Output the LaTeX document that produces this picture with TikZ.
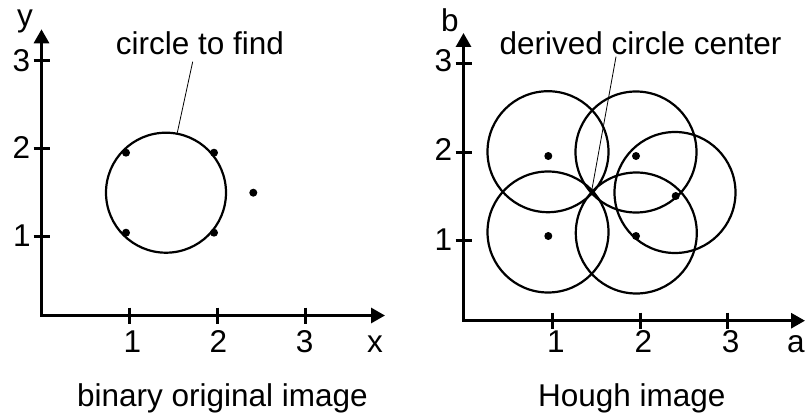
\documentclass[tikz,border=0pt]{standalone}
\usepackage{fontspec}
\setmainfont{Liberation Sans}
\usetikzlibrary{arrows.meta}
\begin{document}
\begin{tikzpicture}[x=1pt,y=-1pt,
  lbl/.style={inner sep=0pt,anchor=base,font=\fontsize{31.5}{36}\selectfont},
  axisline/.style={line width=3pt,{Triangle[length=14pt,width=15pt]}-{Triangle[length=14pt,width=15pt]}},
  tick/.style={line width=3pt},
  ring/.style={line width=2.2pt},
  leader/.style={line width=0.8pt},
  dot/.style={fill=black}]
\useasboundingbox (0,0) rectangle (805,417);
% ---------- left plot ----------
\draw[axisline] (41.5,29.3) |- (385,315.5);
\foreach \yy in {60.7,148.3,236} \draw[tick] (33.5,\yy) -- (49.5,\yy);
\foreach \xx in {129.3,217.3,305} \draw[tick] (\xx,307.5) -- (\xx,323.5);
\node[lbl] (ly3) at (21.5,71.7) {3};
\node[lbl] (ly2) at (21.5,158.8) {2};
\node[lbl] (ly1) at (22,246.7) {1};
\node[lbl] (lx1) at (132.5,352.7) {1};
\node[lbl] (lx2) at (218.3,352.7) {2};
\node[lbl] (lx3) at (304.7,352.7) {3};
\node[lbl] (ly) at (25,27) {y};
\node[lbl] (lx) at (375,352.7) {x};
\draw[ring] (166,192.7) circle[radius=60pt];
\foreach \p in {(126,152.7),(214,152.7),(126,232.7),(214,232.7),(253.3,192.7)}
  \fill[dot] \p circle[radius=4pt];
\node[lbl] (cfind) at (200,55) {circle to find};
\coordinate (cfa) at (192.7,61.7);
\coordinate (cfb) at (177.3,132.7);
\draw[leader] (cfa) -- (cfb);
\node[lbl] (cap1) at (222.5,406) {binary original image};
% ---------- right plot ----------
\draw[axisline] (463.5,33) |- (805,320.7);
\foreach \yy in {63.3,152.3,240} \draw[tick] (455.5,\yy) -- (471.5,\yy);
\foreach \xx in {552.7,640,727.3} \draw[tick] (\xx,312.5) -- (\xx,328.5);
\node[lbl] (ry3) at (443.3,72) {3};
\node[lbl] (ry2) at (443.3,160.5) {2};
\node[lbl] (ry1) at (443.3,250) {1};
\node[lbl] (rx1) at (556,352.7) {1};
\node[lbl] (rx2) at (643.3,352.7) {2};
\node[lbl] (rx3) at (730.5,352.7) {3};
\node[lbl] (rb) at (450,31.7) {b};
\node[lbl,anchor=base west] (ra) at (787,352.7) {a};
\foreach \c in {(548,151.7),(548,232),(636,152),(636.3,233),(675,192.5)}
  \draw[ring] \c circle[radius=60.5pt];
\foreach \p in {(548.3,156),(548.3,236),(636,156),(636,236),(675.7,196)}
  \fill[dot] \p circle[radius=4pt];
\node[lbl] (dcc) at (640.5,55) {derived circle center};
\coordinate (dca) at (616,56.7);
\coordinate (dcb) at (591.7,190.7);
\draw[leader] (dca) -- (dcb);
\node[lbl] (cap2) at (631.7,406.7) {Hough image};
\end{tikzpicture}
\end{document}
